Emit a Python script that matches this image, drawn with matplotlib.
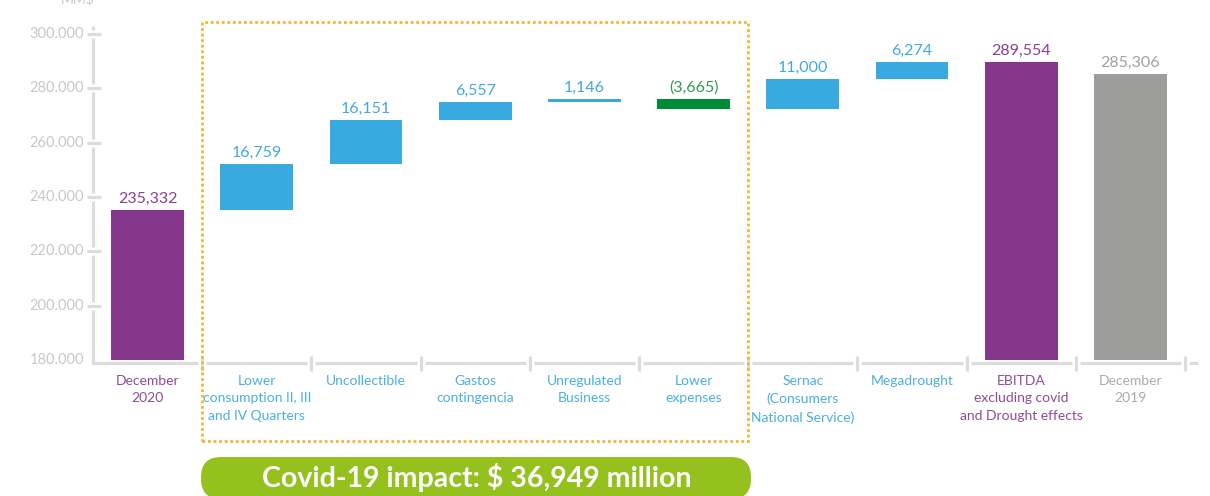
import numpy as np
import matplotlib
matplotlib.use("Agg")
import matplotlib.pyplot as plt
from matplotlib.patches import Rectangle, FancyBboxPatch

plt.rcParams['font.family'] = ['Lato', 'DejaVu Sans']

# datos del grafico (MM$)
categories = ["December\n2020", "Lower\nconsumption II, III\nand IV Quarters", "Uncollectible",
              "Gastos\ncontingencia", "Unregulated\nBusiness", "Lower\nexpenses",
              "Sernac\n(Consumers\nNational Service)", "Megadrought",
              "EBITDA\nexcluding covid\nand Drought effects", "December\n2019"]
values = [235332, 16759, 16151, 6557, 1146, -3665, 11000, 6274, 289554, 285306]
is_total = [True, False, False, False, False, False, False, False, True, True]
value_labels = ["235,332", "16,759", "16,151", "6,557", "1,146", "(3,665)",
                "11,000", "6,274", "289,554", "285,306"]
y_ticks = [180000, 200000, 220000, 240000, 260000, 280000, 300000]
y_tick_labels = ["180.000", "200.000", "220.000", "240.000", "260.000", "280.000", "300.000"]
banner_text = "Covid-19 impact: $ 36,949 million"

# colores
PURPLE = "#84368C"
BLUE = "#38AAE0"
GREEN = "#008D38"
GRAY = "#9D9D9C"
AXIS = "#DCDCDC"
bar_colors = [PURPLE] + [BLUE] * 4 + [GREEN] + [BLUE] * 2 + [PURPLE, GRAY]
value_colors = ["#8A3F90"] + ["#41A9E0"] * 4 + ["#2E9B4E"] + ["#41A9E0"] * 2 + ["#8A3F90", "#A0A0A0"]
cat_colors = ["#8F4B98"] + ["#4BAEE3"] * 7 + ["#8F4B98", "#ABABAB"]

floor = 180000

# calculo de la cascada
bottoms = []
heights = []
running = 0
for v, t in zip(values, is_total):
    if t:
        bottoms.append(floor)
        heights.append(v - floor)
        running = v
    else:
        bottoms.append(running if v >= 0 else running + v)
        heights.append(abs(v))
        running += v

fig = plt.figure(figsize=(12.1, 4.96), dpi=100)
ax = fig.add_axes([0, 0, 1, 1])
ax.axis('off')

# mapeo pixel -> datos
px_x = 109.2                     # pixeles por categoria
px_y = 120000 / 326.0            # unidades por pixel
ax.set_xlim((0 - 93) / px_x - 0.5, (1210 - 93) / px_x - 0.5)
ax.set_ylim(floor - 136 * px_y, floor + 360 * px_y)

x = np.arange(len(categories))
ax.bar(x, heights, bottom=bottoms, width=0.668, color=bar_colors, zorder=3)

# etiquetas de valor
for i in range(len(x)):
    top = bottoms[i] + heights[i]
    ax.annotate(value_labels[i], (x[i], top), xytext=(0, 3), textcoords='offset points',
                ha='center', va='bottom', fontsize=11.5, color=value_colors[i])

# etiquetas de categoria
for i in range(len(x)):
    ax.text(x[i], floor - 15 * px_y, categories[i], ha='center', va='top',
            fontsize=10, color=cat_colors[i], linespacing=1.55)

# eje x con cortes
gap = 4.0 / px_x
ax_y = floor - 3 * px_y
lw = 2.3
for k in range(len(x)):
    x0 = k - 0.5 + (gap if k > 0 else 0)
    x1 = k + 0.5 - gap
    if k == 0:
        ax.plot([-0.5, -0.5, x1], [200000 - 4 * px_y, ax_y, ax_y], color=AXIS, lw=lw,
                solid_capstyle='butt', solid_joinstyle='miter', zorder=1)
    else:
        ax.plot([x0, x1], [ax_y, ax_y], color=AXIS, lw=lw, solid_capstyle='butt', zorder=1)
    ax.plot([k + 0.5, k + 0.5], [ax_y - 8 * px_y, ax_y + 7 * px_y], color=AXIS, lw=lw,
            solid_capstyle='butt', zorder=1)
ax.plot([9.5 + gap, 9.5 + 13 / px_x], [ax_y, ax_y], color=AXIS, lw=lw, solid_capstyle='butt', zorder=1)

# eje y con cortes
ygap = 4 * px_y
for j, t in enumerate(y_ticks):
    ax.text(-0.5 - 9 / px_x, t, y_tick_labels[j], ha='right', va='center',
            fontsize=10.5, color="#C8C8C8")
    if j > 0:
        ax.plot([-0.5 - 6 / px_x, -0.5 + 8 / px_x], [t, t], color=AXIS, lw=lw,
                solid_capstyle='butt', zorder=1)
    if 0 < j < len(y_ticks) - 1:
        ax.plot([-0.5, -0.5], [t + ygap, y_ticks[j + 1] - ygap], color=AXIS, lw=lw,
                solid_capstyle='butt', zorder=1)
ax.plot([-0.5, -0.5], [300000 + ygap, 300000 + 8 * px_y], color=AXIS, lw=lw,
        solid_capstyle='butt', zorder=1)

# unidad (cortada arriba, como en el original)
fig.text(0.78, 4.97, "MM$", transform=fig.dpi_scale_trans, ha='center', va='center',
         fontsize=10, color="#C8C8C8")

# recuadro punteado covid
box = Rectangle((2.02, 0.55), 5.46, 4.19, transform=fig.dpi_scale_trans, fill=False,
                edgecolor="#F9B233", lw=2, linestyle=(0, (1, 1)))
fig.add_artist(box)

# banner verde
pill = FancyBboxPatch((2.01, -0.03), 5.50, 0.42, boxstyle="round,pad=0,rounding_size=0.2",
                      transform=fig.dpi_scale_trans, facecolor="#95C11F", edgecolor='none')
fig.add_artist(pill)
fig.text(4.765, 0.19, banner_text, transform=fig.dpi_scale_trans, ha='center', va='center',
         fontsize=20.5, fontweight='bold', color='white')

fig.savefig("out.png", dpi=100)
